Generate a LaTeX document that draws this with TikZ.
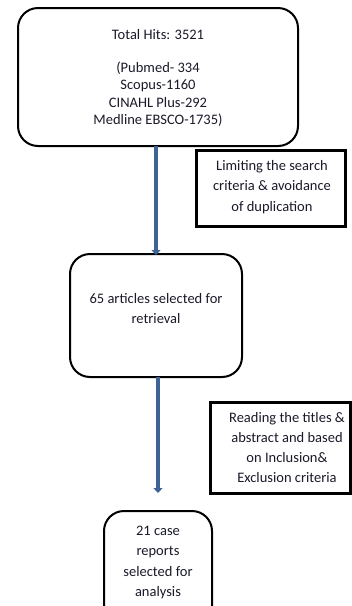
\documentclass[tikz,border=0pt]{standalone}
\usepackage{fontspec}
\setmainfont{Carlito}
\usetikzlibrary{arrows.meta}
\definecolor{arrowblue}{HTML}{3E6495}
\definecolor{txt}{HTML}{1A1A2A}
\begin{document}
\begin{tikzpicture}[x=1pt,y=-1pt,
  roundbox/.style={draw=black,line width=2pt,rounded corners=20pt,fill=white},
  notebox/.style={draw=black,line width=3pt,fill=white},
  boxtext/.style={text=txt,font=\fontsize{14.5}{20.3}\selectfont,align=center,inner sep=0pt},
  flow/.style={draw=arrowblue,line width=3.8pt,-{Triangle[length=5pt,width=9pt]}}]
\useasboundingbox (0,0) rectangle (352,606);
% boxes
\draw[roundbox] (18,8) rectangle (298,146);
\node[boxtext,font=\fontsize{14.5}{17.5}\selectfont] (t1) at (158,78) {Total Hits: 3521\\[15.5pt](Pubmed- 334\\Scopus-1160\\CINAHL Plus-292\\Medline EBSCO-1735)};
\coordinate (b1) at (156,146);
\draw[notebox] (196,150) rectangle (345,226);
\node[boxtext] (n1) at (272,187) {Limiting the search\\criteria \& avoidance\\of duplication};
\draw[roundbox] (70,254) rectangle (242,377);
\node[boxtext] (t2) at (156,308.5) {65 articles selected for\\retrieval};
\coordinate (t2top) at (156,255);
\coordinate (b2) at (158,377);
\draw[notebox] (210,402) rectangle (350,493);
\node[boxtext] (n2) at (287,447.5) {Reading the titles \&\\abstract and based\\on Inclusion\&\\Exclusion criteria};
\draw[roundbox] (104,511) rectangle (212,640);
\node[boxtext] (t3) at (158,562.5) {21 case\\reports\\selected for\\analysis};
\coordinate (e2) at (158,493);
% arrows
\draw[flow] (b1) -- (t2top);
\draw[flow] (b2) -- (e2);
\end{tikzpicture}
\end{document}
